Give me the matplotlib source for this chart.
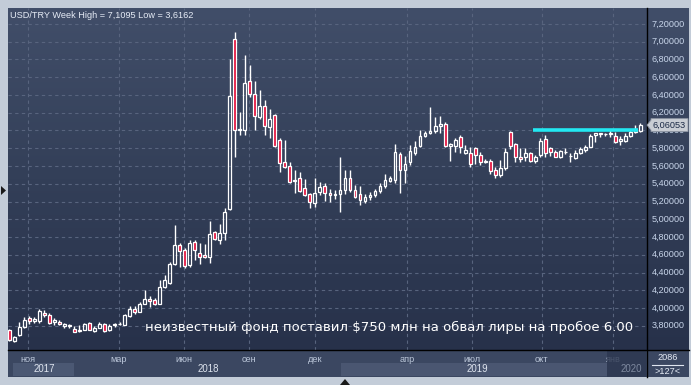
import matplotlib
matplotlib.use("Agg")
import matplotlib.pyplot as plt
import numpy as np
from matplotlib.patches import Rectangle, Polygon
from matplotlib.colors import LinearSegmentedColormap
from matplotlib.lines import Line2D
import matplotlib.transforms as mtransforms

# ---------------- data ----------------
title_text = "USD/TRY Week High = 7,1095 Low = 3,6162"
note_text = "неизвестный фонд поставил $750 млн на обвал лиры на пробое 6.00"

opens = [
    3.75, 3.63, 3.70, 3.79, 3.89, 3.85, 3.85, 3.94, 3.92, 3.845,
    3.845, 3.80, 3.795, 3.765, 3.74, 3.755, 3.83, 3.74, 3.775, 3.825,
    3.755, 3.805, 3.815, 3.81, 3.91, 3.99, 3.96, 4.05, 4.10, 4.09,
    4.05, 4.24, 4.28, 4.50, 4.71, 4.655, 4.49, 4.74, 4.62, 4.595,
    4.58, 4.855, 4.77, 4.85, 5.11, 7.03, 6.00, 6.01, 6.56, 6.41,
    6.15, 6.28, 6.04, 6.17, 5.89, 5.64, 5.60, 5.43, 5.47, 5.35,
    5.29, 5.18, 5.31, 5.375, 5.30, 5.27, 5.29, 5.33, 5.46, 5.33,
    5.28, 5.21, 5.255, 5.275, 5.32, 5.37, 5.435, 5.44, 5.74, 5.56,
    5.64, 5.75, 5.83, 5.94, 5.976, 5.99, 6.05, 6.074, 5.83, 5.83,
    5.924, 5.745, 5.75, 5.80, 5.725, 5.642, 5.657, 5.556, 5.50, 5.574,
    5.98, 5.848, 5.706, 5.706, 5.751, 5.661, 5.725, 5.90, 5.80, 5.762,
    5.70, 5.755, 5.71, 5.687, 5.751, 5.781, 5.818, 5.95, 5.955, 5.955,
    5.96, 5.939, 5.886, 5.886, 5.939, 5.987, 5.99]
highs = [
    3.76, 3.68, 3.84, 3.90, 3.91, 3.90, 3.99, 3.98, 3.94, 3.89,
    3.86, 3.835, 3.825, 3.795, 3.805, 3.835, 3.84, 3.795, 3.845, 3.835,
    3.825, 3.83, 3.845, 3.93, 4.02, 4.02, 4.07, 4.20, 4.14, 4.11,
    4.31, 4.37, 4.52, 4.94, 4.73, 4.68, 4.77, 4.77, 4.73, 4.72,
    4.98, 4.87, 4.95, 5.125, 6.81, 7.11, 6.205, 6.85, 6.74, 6.56,
    6.46, 6.34, 6.24, 6.19, 5.91, 5.89, 5.65, 5.556, 5.537, 5.45,
    5.30, 5.46, 5.425, 5.405, 5.34, 5.33, 5.706, 5.556, 5.556, 5.387,
    5.376, 5.285, 5.31, 5.338, 5.413, 5.51, 5.49, 5.85, 5.762, 5.713,
    5.837, 5.886, 6.006, 5.995, 6.26, 6.156, 6.164, 6.10, 5.856, 5.912,
    5.95, 5.837, 5.818, 5.818, 5.762, 5.676, 5.676, 5.593, 5.668, 5.80,
    5.99, 5.856, 5.80, 5.80, 5.762, 5.725, 5.912, 5.95, 5.818, 5.781,
    5.781, 5.80, 5.751, 5.781, 5.811, 5.837, 5.961, 5.976, 5.976, 5.976,
    6.006, 5.987, 5.939, 5.976, 6.006, 6.063, 6.09]
lows = [
    3.63, 3.616, 3.68, 3.77, 3.82, 3.835, 3.835, 3.90, 3.82, 3.805,
    3.805, 3.78, 3.77, 3.73, 3.73, 3.75, 3.75, 3.725, 3.77, 3.735,
    3.74, 3.785, 3.805, 3.805, 3.90, 3.93, 3.95, 4.04, 4.01, 4.03,
    4.04, 4.23, 4.27, 4.49, 4.46, 4.45, 4.46, 4.54, 4.50, 4.565,
    4.51, 4.77, 4.72, 4.77, 5.10, 5.70, 5.95, 5.95, 6.38, 6.01,
    6.13, 5.95, 5.91, 5.81, 5.53, 5.575, 5.405, 5.30, 5.31, 5.26,
    5.13, 5.14, 5.275, 5.207, 5.20, 5.225, 5.087, 5.29, 5.31, 5.237,
    5.162, 5.18, 5.218, 5.248, 5.293, 5.35, 5.424, 5.405, 5.30, 5.405,
    5.612, 5.725, 5.818, 5.924, 5.961, 5.969, 5.969, 5.818, 5.66, 5.755,
    5.743, 5.736, 5.593, 5.623, 5.612, 5.631, 5.51, 5.462, 5.48, 5.556,
    5.788, 5.65, 5.65, 5.661, 5.65, 5.638, 5.706, 5.706, 5.713, 5.698,
    5.687, 5.736, 5.65, 5.676, 5.736, 5.762, 5.811, 5.874, 5.93, 5.94,
    5.93, 5.856, 5.837, 5.874, 5.924, 5.976, 5.98]
closes = [
    3.64, 3.675, 3.79, 3.86, 3.85, 3.88, 3.97, 3.92, 3.83, 3.86,
    3.815, 3.815, 3.805, 3.735, 3.75, 3.825, 3.755, 3.77, 3.825, 3.74,
    3.795, 3.815, 3.825, 3.92, 3.99, 3.95, 4.05, 4.10, 4.08, 4.04,
    4.235, 4.32, 4.50, 4.71, 4.64, 4.47, 4.73, 4.65, 4.58, 4.575,
    4.835, 4.78, 4.85, 5.08, 6.39, 6.01, 6.02, 6.53, 6.41, 6.16,
    6.28, 6.05, 6.13, 5.83, 5.63, 5.59, 5.42, 5.44, 5.32, 5.27,
    5.20, 5.30, 5.36, 5.30, 5.27, 5.29, 5.33, 5.46, 5.33, 5.255,
    5.22, 5.25, 5.27, 5.32, 5.37, 5.44, 5.46, 5.755, 5.556, 5.62,
    5.77, 5.81, 5.94, 5.975, 5.995, 6.05, 6.074, 5.83, 5.845, 5.89,
    5.81, 5.78, 5.623, 5.725, 5.642, 5.657, 5.548, 5.50, 5.574, 5.755,
    5.826, 5.706, 5.676, 5.743, 5.661, 5.698, 5.882, 5.75, 5.762, 5.706,
    5.774, 5.762, 5.716, 5.751, 5.788, 5.818, 5.939, 5.969, 5.969, 5.965,
    5.975, 5.875, 5.90, 5.939, 5.987, 6.006, 6.0605]

price_ticks = [3.8, 4.0, 4.2, 4.4, 4.6, 4.8, 5.0, 5.2, 5.4, 5.6, 5.8,
               6.0, 6.2, 6.4, 6.6, 6.8, 7.0, 7.2]
month_labels = ["ноя", "мар", "июн", "сен", "дек", "апр", "июл", "окт", "янв"]
month_pos = [3.7, 21.9, 34.9, 47.8, 61.0, 79.4, 92.4, 106.3, 120.5]
year_labels = ["2017", "2018", "2019", "2020"]
year_pos = [6.9, 39.7, 93.5, 124.1]
last_price = 6.06053
last_price_label = "6,06053"
level_price = 6.01
level_start, level_end = 104.5, 125.5
bar_info_top = "2086"
bar_info_bottom = ">127<"

# ---------------- figure ----------------
W, H = 691, 385
fig = plt.figure(figsize=(W / 100, H / 100), dpi=100)
fig.patch.set_facecolor("#c3ccd8")
px = mtransforms.Affine2D().scale(1, -1).translate(0, H)  # top-left pixel coords


def fa(x0, y0, x1, y1):
    return [x0 / W, 1 - y1 / H, (x1 - x0) / W, (y1 - y0) / H]


# background gradient (plot + right panel)
bg = fig.add_axes(fa(8, 8, 689, 350), zorder=-5)
cm = LinearSegmentedColormap.from_list("bgc", ["#27314a", "#333f58", "#414e69"])
grad = np.linspace(0, 1, 256).reshape(-1, 1)
bg.imshow(grad, aspect="auto", cmap=cm, origin="lower", extent=[0, 1, 0, 1])
bg.set_axis_off()

# bottom band
fig.add_artist(Rectangle((8, 350), 681, 27, transform=px, facecolor="#3b4761",
                         edgecolor="none", zorder=1))
fig.add_artist(Rectangle((13, 363), 61, 13, transform=px, facecolor="#4b5873",
                         edgecolor="none", zorder=1.1))
fig.add_artist(Rectangle((341, 363), 266, 13, transform=px, facecolor="#4a5671",
                         edgecolor="none", zorder=1.1))

# main axes
ax = fig.add_axes(fa(8, 8, 646, 350), zorder=2)
ax.patch.set_alpha(0)
n = len(opens)
ax.set_xlim(-0.26, 127.1)
ax.set_ylim(3.527, 7.380)
for s in ax.spines.values():
    s.set_visible(False)
ax.set_xticks([])
ax.set_yticks([])

grid_c = "#58647e"
for p in price_ticks:
    ax.axhline(p, color=grid_c, lw=0.8, ls=(0, (3, 3)), zorder=1)
for m in month_pos:
    ax.axvline(m, color=grid_c, lw=0.8, ls=(0, (3, 3)), zorder=1)

# candles
bw = 0.56
red = "#e3123d"
for i in range(n):
    o, h, l, c = opens[i], highs[i], lows[i], closes[i]
    top, bot = max(o, c), min(o, c)
    up = c >= o
    ax.plot([i, i], [top, h], color="white", lw=1.0, zorder=3, solid_capstyle="butt")
    ax.plot([i, i], [l, bot], color="white", lw=1.0, zorder=3, solid_capstyle="butt")
    ax.add_patch(Rectangle((i - bw / 2, bot), bw, max(top - bot, 0.006),
                           facecolor="none" if up else red,
                           edgecolor="white", lw=0.9, zorder=4))

# cyan level
ax.plot([level_start, level_end], [level_price, level_price], color="#22e8f2",
        lw=2.6, zorder=5, solid_capstyle="butt")

renderer = fig.canvas.get_renderer()


def fit(t, target):
    w = t.get_window_extent(renderer).width
    t.set_fontsize(t.get_fontsize() * target / w)


# annotation
t = ax.text(145, 327, note_text, transform=px, color="white", ha="left",
            va="center", fontsize=10, family="DejaVu Sans", zorder=6)
fit(t, 487)

# title
t = fig.text(10, 15, title_text, transform=px, color="#e6ecf6", ha="left",
             va="center", fontsize=7, family="Liberation Sans", zorder=6)
fit(t, 183)

# separators
fig.add_artist(Line2D([646.5, 646.5], [8, 377], transform=px, color="black", lw=1.0, zorder=3))
fig.add_artist(Line2D([8, 689], [349.5, 349.5], transform=px, color="black", lw=1.0, zorder=3))


def ypx(p):
    d = ax.transData.transform((0, p))
    return H - d[1]


yp = ypx(last_price)

# right axis labels
lab_fs = None
for p in price_ticks:
    s = ("%.5f" % p).replace(".", ",")
    t = fig.text(652, ypx(p), s, transform=px, color="#c8d5ea", ha="left",
                 va="center", fontsize=7, family="Liberation Sans", zorder=6)
    if lab_fs is None:
        fit(t, 33)
        lab_fs = t.get_fontsize()
    else:
        t.set_fontsize(lab_fs)
    if abs(p - 6.0) < 1e-9:
        # partly hidden under the last-price box, as in the reference
        clip = mtransforms.Bbox([[640, 0], [691, H - (yp + 6.5)]])
        t.set_clip_box(clip)
        t.set_clip_on(True)

# last price box
fig.add_artist(Polygon([[647, yp], [651, yp - 5], [651, yp - 6.5], [688, yp - 6.5],
                        [688, yp + 6.5], [651, yp + 6.5], [651, yp + 5]],
                       closed=True, transform=px, facecolor="#c9cdd4",
                       edgecolor="#8e96a4", lw=0.6, zorder=7))
fig.text(669.5, yp, last_price_label, transform=px, color="#1c2a46", ha="center",
         va="center", fontsize=lab_fs, family="Liberation Sans", zorder=8)

# month / year labels
xpx = lambda i: ax.transData.transform((i, 0))[0]
for lab, m in zip(month_labels, month_pos):
    fig.text(xpx(m), 359, lab, transform=px, color="#bcc7da", ha="center",
             va="center", fontsize=lab_fs, family="Liberation Sans", zorder=2)
for lab, m in zip(year_labels, year_pos):
    col = "#7f8aa0" if lab == "2020" else "#dfe5ef"
    fig.text(xpx(m), 369.5, lab, transform=px, color=col, ha="center",
             va="center", fontsize=lab_fs * 1.05, family="Liberation Sans", zorder=2.5)
fig.add_artist(Rectangle((607, 351), 39, 26, transform=px, facecolor="#2c3750",
                         edgecolor="none", alpha=0.8, zorder=2.2))

# bar info
fig.text(668, 357, bar_info_top, transform=px, color="#e6ecf6", ha="center",
         va="center", fontsize=lab_fs, family="Liberation Sans", zorder=6)
fig.add_artist(Line2D([652, 683], [364.5, 364.5], transform=px, color="#dfe5ef", lw=0.8, zorder=6))
fig.text(668, 372, bar_info_bottom, transform=px, color="#e6ecf6", ha="center",
         va="center", fontsize=lab_fs, family="Liberation Sans", zorder=6)

# small scroll markers
fig.add_artist(Polygon([[1, 186], [6, 190.5], [1, 195]], closed=True, transform=px,
                       facecolor="#1a1a1a", edgecolor="none", zorder=6))
fig.add_artist(Polygon([[340, 385], [345, 379], [350, 385]], closed=True, transform=px,
                       facecolor="#1a1a1a", edgecolor="none", zorder=6))

fig.savefig("out.png", dpi=100, facecolor=fig.get_facecolor())
